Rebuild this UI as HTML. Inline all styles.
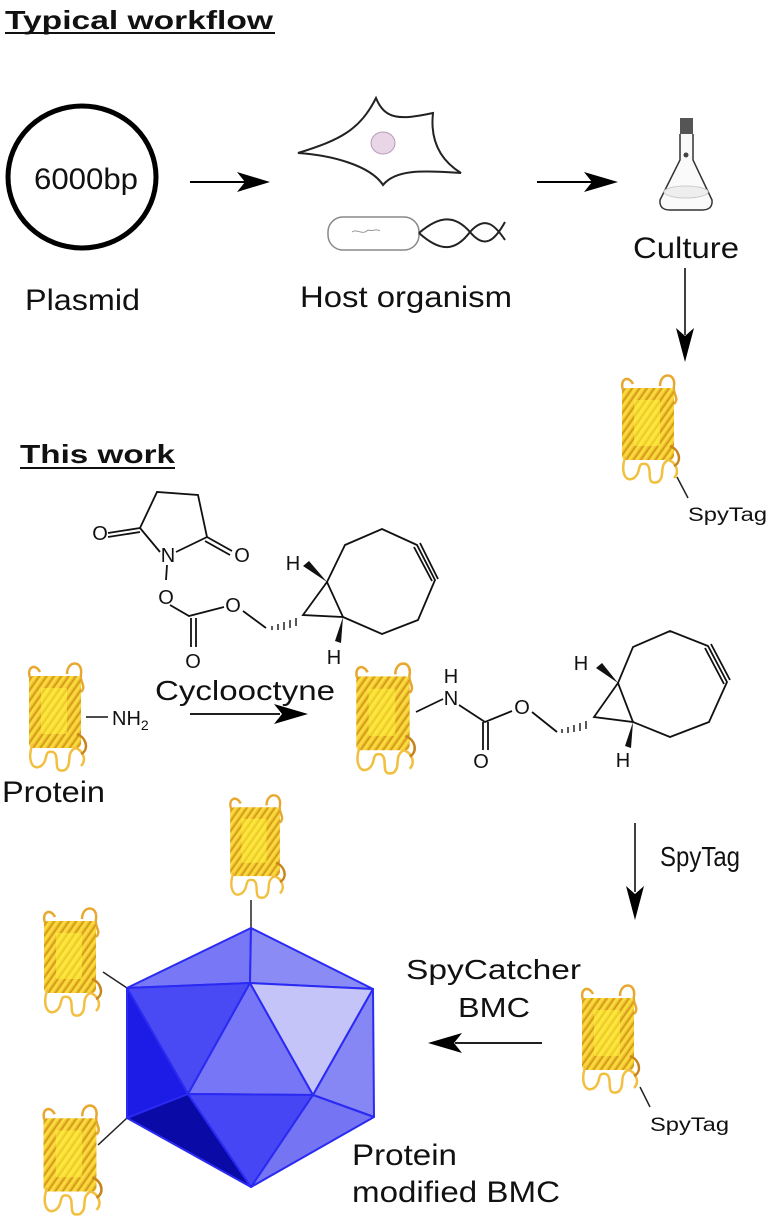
<!DOCTYPE html>
<html><head><meta charset="utf-8"><style>
body{margin:0;background:#fff;}
svg{display:block;}
text{font-family:"Liberation Sans",sans-serif;fill:#111;}
</style></head><body>
<svg width="770" height="1219" viewBox="0 0 770 1219" xmlns="http://www.w3.org/2000/svg">
<defs>
<linearGradient id="gb" x1="0" y1="0" x2="1" y2="0">
<stop offset="0" stop-color="#e0a020"/><stop offset="0.5" stop-color="#ffe640"/><stop offset="1" stop-color="#e2a828"/>
</linearGradient>
<pattern id="hatch" width="6" height="6" patternUnits="userSpaceOnUse" patternTransform="rotate(35)">
<rect width="6" height="6" fill="url(#gb)"/><line x1="0" y1="0" x2="0" y2="6" stroke="#c88a10" stroke-width="1.6"/>
</pattern>
<symbol id="prot" viewBox="0 0 70 115">
<path d="M10 20 C4 8 14 2 19 12 M46 14 C46 0 62 0 60 14 C58 22 66 26 60 32" fill="none" stroke="#e8a830" stroke-width="2.5"/>
<rect x="8" y="16" width="52" height="72" rx="4" fill="url(#hatch)"/>
<rect x="20" y="28" width="26" height="46" fill="#fff23a" opacity="0.55"/>
<path d="M12 84 C6 96 10 112 20 106 C28 100 22 90 32 92 C40 96 30 114 44 110 C52 104 44 94 54 88 C62 90 66 100 60 106" fill="none" stroke="#f2c040" stroke-width="2.5"/>
<path d="M56 74 C66 78 68 90 60 94" fill="none" stroke="#c8841a" stroke-width="2.5"/>
</symbol>
</defs>

<!-- Titles -->
<text x="5" y="29" font-size="26" font-weight="bold" textLength="268" lengthAdjust="spacingAndGlyphs">Typical workflow</text>
<line x1="5" y1="33" x2="275" y2="33" stroke="#111" stroke-width="2"/>
<text x="20" y="463" font-size="26" font-weight="bold" textLength="155" lengthAdjust="spacingAndGlyphs">This work</text>
<line x1="20" y1="468" x2="175" y2="468" stroke="#111" stroke-width="2"/>

<!-- Plasmid -->
<ellipse cx="82" cy="177" rx="74" ry="71" fill="none" stroke="#000" stroke-width="5"/>
<text x="34" y="189" font-size="30" textLength="104" lengthAdjust="spacingAndGlyphs">6000bp</text>
<text x="25" y="310" font-size="30" textLength="115" lengthAdjust="spacingAndGlyphs">Plasmid</text>
<line x1="190" y1="182" x2="245" y2="182" stroke="#000" stroke-width="2"/>
<polygon points="270,182 237,172 245,182 237,192" fill="#000"/>

<!-- Host -->
<path d="M298 153 C340 140 360 130 376 98 C385 120 400 120 433 113 C430 140 440 160 461 173 C420 170 395 170 383 185 C370 165 330 155 298 153 Z" fill="none" stroke="#222" stroke-width="2"/>
<ellipse cx="383" cy="143" rx="12" ry="11" fill="#e8d5e6" stroke="#b99ab8"/>
<rect x="328" y="217" width="91" height="33" rx="15" fill="none" stroke="#888" stroke-width="1.5"/>
<path d="M352 232 c5 -4 10 4 16 -2 c4 2 8 -2 12 1" fill="none" stroke="#999" stroke-width="1"/>
<path d="M419 233 C440 215 455 215 470 232 C485 250 495 240 505 222 M419 233 C440 252 455 252 470 232 C485 215 495 225 505 240" fill="none" stroke="#222" stroke-width="2"/>
<text x="300" y="307" font-size="30" textLength="212" lengthAdjust="spacingAndGlyphs">Host organism</text>
<line x1="537" y1="182" x2="592" y2="182" stroke="#000" stroke-width="2"/>
<polygon points="618,182 584,172 592,182 584,192" fill="#000"/>

<!-- Flask -->
<rect x="680" y="118" width="13" height="16" fill="#555"/>
<path d="M680 134 L680 160 L660 200 Q659 210 670 210 L702 210 Q713 210 712 200 L693 160 L693 134" fill="#fafafa" stroke="#333" stroke-width="1.5"/>
<ellipse cx="686" cy="192" rx="22" ry="6" fill="#eee" stroke="#ccc"/>
<circle cx="686" cy="155" r="2.5" fill="#444"/>
<text x="633" y="258" font-size="30" textLength="106" lengthAdjust="spacingAndGlyphs">Culture</text>
<line x1="685" y1="268" x2="685" y2="335" stroke="#000" stroke-width="1.5"/>
<polygon points="685,362 676,328 685,336 694,328" fill="#000"/>

<use href="#prot" x="613" y="372" width="72" height="115"/>
<line x1="677" y1="477" x2="688" y2="498" stroke="#222" stroke-width="1.5"/>
<text x="688" y="521" font-size="19" textLength="79" lengthAdjust="spacingAndGlyphs">SpyTag</text>

<!-- Reagent molecule -->
<g fill="none" stroke="#111" stroke-width="1.8">
<path d="M140 528 L157 492 L198 495 L207 537 L176 552 M160 552 L140 528"/>
<path d="M140 528 L108 533 M140 532 L108 537"/>
<path d="M207 537 L232 551 M205 541 L230 555"/>
<path d="M167 565 L166 580"/>
<path d="M170 605 L189 616 L224 607"/>
<path d="M191 618 L191 647 M196 618 L196 647"/>
<path d="M243 611 L266 628"/>
<path d="M327 582 L303 615 L343 617 Z"/>
<path d="M327 582 L345 545 L382 529 L417 545 L435 580 L418 620 L382 634 L343 617"/>
<path d="M414 547 L432 581 M420 543 L438 579"/>
</g>
<g stroke="#111" stroke-width="1.4">
<line x1="272" y1="626" x2="272" y2="630"/><line x1="278" y1="624" x2="278" y2="630"/><line x1="284" y1="622" x2="284" y2="630"/><line x1="290" y1="620" x2="290" y2="628"/><line x1="296" y1="618" x2="296" y2="626"/>
</g>
<path d="M327 582 L303 566 L309 561 Z" fill="#111"/>
<path d="M343 617 L335 641 L341 643 Z" fill="#111"/>
<g font-size="20" text-anchor="middle">
<text x="100" y="540">O</text><text x="168" y="562">N</text><text x="242" y="562">O</text>
<text x="166" y="604">O</text><text x="233" y="612">O</text><text x="193" y="668">O</text>
<text x="293" y="570">H</text><text x="334" y="664">H</text>
</g>

<!-- Reaction row -->
<use href="#prot" x="20" y="660" width="72" height="115"/>
<line x1="86" y1="717" x2="108" y2="717" stroke="#111" stroke-width="1.5"/>
<text x="112" y="725" font-size="20">NH<tspan font-size="14" dy="5">2</tspan></text>
<text x="2" y="802" font-size="30" textLength="103" lengthAdjust="spacingAndGlyphs">Protein</text>
<text x="155" y="700" font-size="28" textLength="180" lengthAdjust="spacingAndGlyphs">Cyclooctyne</text>
<line x1="190" y1="714" x2="280" y2="714" stroke="#000" stroke-width="1.8"/>
<polygon points="308,714 274,704 282,714 274,724" fill="#000"/>

<use href="#prot" x="348" y="660" width="72" height="118"/>
<g fill="none" stroke="#111" stroke-width="1.8">
<path d="M416 712 L443 699"/>
<path d="M459 705 L485 722 L512 711"/>
<path d="M483 722 L483 750 M488 722 L488 750"/>
<path d="M532 712 L557 732"/>
<path d="M618 683 L594 717 L633 722 Z"/>
<path d="M618 683 L633 647 L670 631 L708 646 L727 682 L709 722 L670 737 L633 722"/>
<path d="M705 648 L724 684 M711 644 L730 680"/>
</g>
<g stroke="#111" stroke-width="1.4">
<line x1="562" y1="729" x2="562" y2="733"/><line x1="568" y1="727" x2="568" y2="733"/><line x1="574" y1="725" x2="574" y2="732"/><line x1="580" y1="723" x2="580" y2="731"/><line x1="586" y1="721" x2="586" y2="729"/>
</g>
<path d="M618 683 L596 668 L602 663 Z" fill="#111"/>
<path d="M633 722 L625 746 L631 748 Z" fill="#111"/>
<g font-size="20" text-anchor="middle">
<text x="451" y="683">H</text><text x="451" y="705">N</text><text x="522" y="714">O</text><text x="481" y="768">O</text>
<text x="581" y="670">H</text><text x="623" y="767">H</text>
</g>

<!-- SpyTag arrow -->
<line x1="635" y1="823" x2="635" y2="892" stroke="#000" stroke-width="1.5"/>
<polygon points="635,920 626,886 635,894 644,886" fill="#000"/>
<text x="660" y="866" font-size="28" textLength="80" lengthAdjust="spacingAndGlyphs">SpyTag</text>

<!-- SpyCatcher -->
<text x="406" y="979" font-size="28" textLength="175" lengthAdjust="spacingAndGlyphs">SpyCatcher</text>
<text x="458" y="1017" font-size="28" textLength="72" lengthAdjust="spacingAndGlyphs">BMC</text>
<line x1="542" y1="1043" x2="455" y2="1043" stroke="#000" stroke-width="1.8"/>
<polygon points="428,1043 462,1033 454,1043 462,1053" fill="#000"/>
<use href="#prot" x="574" y="982" width="70" height="115"/>
<line x1="640" y1="1087" x2="650" y2="1107" stroke="#222" stroke-width="1.5"/>
<text x="650" y="1131" font-size="19" textLength="79" lengthAdjust="spacingAndGlyphs">SpyTag</text>

<!-- BMC -->
<line x1="251" y1="900" x2="251" y2="928" stroke="#222" stroke-width="1.5"/>
<line x1="103" y1="972" x2="127" y2="988" stroke="#222" stroke-width="1.5"/>
<line x1="98" y1="1145" x2="127" y2="1118" stroke="#222" stroke-width="1.5"/>
<use href="#prot" x="221" y="792" width="70" height="110"/>
<use href="#prot" x="35" y="905" width="72" height="115"/>
<use href="#prot" x="35" y="1102" width="72" height="117"/>
<g stroke="#2a2af2" stroke-width="2" stroke-linejoin="round">
<polygon points="251,928 127,988 250,983" fill="#7878f6"/>
<polygon points="251,928 250,983 373,989" fill="#8b8bf6"/>
<polygon points="127,988 250,983 188,1094" fill="#4a4af4"/>
<polygon points="250,983 188,1094 313,1095" fill="#7676f6"/>
<polygon points="250,983 373,989 313,1095" fill="#c4c4f8"/>
<polygon points="373,989 313,1095 374,1117" fill="#8686f4"/>
<polygon points="127,988 188,1094 127,1118" fill="#1c1ce6"/>
<polygon points="127,1118 188,1094 251,1187" fill="#0a0aa6"/>
<polygon points="188,1094 313,1095 251,1187" fill="#4646f4"/>
<polygon points="313,1095 374,1117 251,1187" fill="#7575f4"/>
</g>
<text x="352" y="1165" font-size="30" textLength="105" lengthAdjust="spacingAndGlyphs">Protein</text>
<text x="352" y="1202" font-size="30" textLength="208" lengthAdjust="spacingAndGlyphs">modified BMC</text>
</svg>
</body></html>
